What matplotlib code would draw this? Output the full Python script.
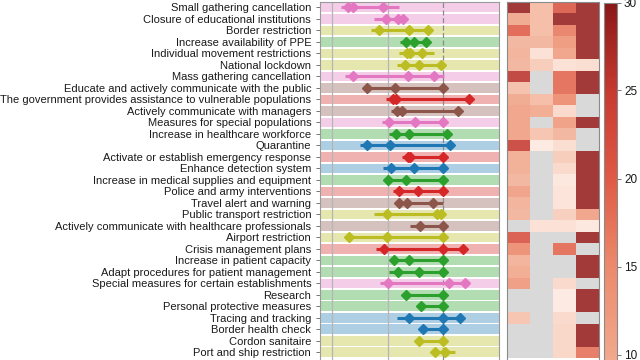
import numpy as np
import matplotlib
matplotlib.use("Agg")
import matplotlib.pyplot as plt
from matplotlib.colors import LinearSegmentedColormap, Normalize
from matplotlib.cm import ScalarMappable

plt.rcParams['font.family'] = ['Liberation Sans', 'DejaVu Sans']

measures = [
    "Small gathering cancellation",
    "Closure of educational institutions",
    "Border restriction",
    "Increase availability of PPE",
    "Individual movement restrictions",
    "National lockdown",
    "Mass gathering cancellation",
    "Educate and actively communicate with the public",
    "The government provides assistance to vulnerable populations",
    "Actively communicate with managers",
    "Measures for special populations",
    "Increase in healthcare workforce",
    "Quarantine",
    "Activate or establish emergency response",
    "Enhance detection system",
    "Increase in medical supplies and equipment",
    "Police and army interventions",
    "Travel alert and warning",
    "Public transport restriction",
    "Actively communicate with healthcare professionals",
    "Airport restriction",
    "Crisis management plans",
    "Increase in patient capacity",
    "Adapt procedures for patient management",
    "Special measures for certain establishments",
    "Research",
    "Personal protective measures",
    "Tracing and tracking",
    "Border health check",
    "Cordon sanitaire",
    "Port and ship restriction",
]

# category colour of each measure
categories = ["pink", "pink", "olive", "green", "olive", "olive", "pink", "brown",
              "red", "brown", "pink", "green", "blue", "red", "blue", "green",
              "red", "brown", "olive", "brown", "olive", "red", "green", "green",
              "pink", "green", "green", "blue", "blue", "olive", "olive"]

# range of each measure (horizontal line)
range_lo = [0.16, 0.76, 0.70, 1.22, 1.21, 1.17, 0.23, 0.61, 0.97, 1.05, 0.90, 1.02,
            0.50, 1.26, 0.91, 0.97, 1.09, 1.16, 0.75, 1.40, 0.26, 0.79, 1.06, 1.03,
            0.86, 1.28, 1.56, 1.17, 1.59, 1.53, 1.80]
range_hi = [1.20, 1.29, 1.76, 1.74, 1.83, 2.01, 2.01, 2.01, 2.48, 2.29, 2.00, 2.10,
            2.16, 2.00, 2.00, 2.00, 2.00, 2.00, 2.00, 2.00, 2.06, 2.37, 2.00, 2.00,
            2.42, 2.00, 2.00, 2.32, 2.00, 2.00, 2.21]

# diamond markers (NaN = absent)
marker_a = [0.28, 0.97, 0.84, 1.33, 1.34, 1.32, 0.37, 0.63, 1.09, 1.17, 1.03, 1.15,
            0.63, 1.36, 1.05, 1.00, 1.21, 1.21, 0.98, 1.58, 0.31, 0.93, 1.11, 1.18,
            1.00, 1.33, 1.60, 1.38, 1.63, 1.56, 1.85]
marker_b = [0.37, 1.18, 1.39, 1.47, 1.41, 1.56, 1.37, 1.13, 1.14, 1.25, 1.50, 1.38,
            1.04, 1.40, 1.48, 1.33, 1.54, 1.34, 1.89, 1.99, 0.99, 2.00, 1.38, 1.57,
            2.10, 2.00, 2.00, 2.00, 2.00, 2.00, 2.04]
marker_c = [0.91, 1.28, 1.72, 1.69, 1.61, 1.96, 1.83, 2.00, 2.46, 2.26, 2.00, 2.06,
            2.13, 2.00, 2.00, 2.00, 2.00, 1.81, 1.96, np.nan, 2.00, 2.36, 2.00, 1.99,
            2.40, np.nan, np.nan, 2.31, np.nan, np.nan, np.nan]

# heatmap values, four columns
heat_col1 = [29, 11, 20, 9, 9.5, 9, 26, 7.5, 11, 12, 12, 12, 25, 10, 10, 9,
             12.5, 9.5, 9, np.nan, 22, 15.5, 9.5, 10.5, 13.5, np.nan, np.nan, 7, np.nan, np.nan, np.nan]
heat_col2 = [8, 8, 8, 9, 3, 6, np.nan, np.nan, 8, 10.5, np.nan, 7, 1.5, np.nan, np.nan, np.nan,
             np.nan, np.nan, np.nan, 3, np.nan, np.nan, np.nan, np.nan, np.nan, np.nan, np.nan, np.nan, np.nan, np.nan, np.nan]
heat_col3 = [21, 29, 17, 14, 12, 3, 19, 19, 15.5, 4, 13, 9, 3.5, 6, 4, 2,
             2.5, 2.5, 5.5, 3, np.nan, 19, np.nan, np.nan, 4, 1.5, 1.5, 4, 4.5, 4.5, 4.5]
heat_col4 = [29, 29, 29, 29, 29, 3.5, 29, 29, np.nan, np.nan, 29, np.nan, np.nan, 29, 29, 29,
             29, 29, 12, 2, 29, np.nan, 29, 29, np.nan, 29, 29, np.nan, 29, 29, 18]

palette = {"pink": "#e377c2", "olive": "#bcbd22", "green": "#2ca02c",
           "brown": "#8c564b", "red": "#d62728", "blue": "#1f77b4"}

cmap = LinearSegmentedColormap.from_list(
    "heat",
    [(0.0, "#fff4ee"), (10/30, "#f1a78b"), (15/30, "#ec8a6c"),
     (20/30, "#e05a45"), (25/30, "#c63a30"), (1.0, "#8a1818")])
cmap.set_bad("#d4d4d4")

W, H = 640, 360
fig = plt.figure(figsize=(6.4, 3.6), dpi=100)

n = len(measures)
y = np.arange(n)
ytop = -0.5
ybot = 30.67
top_frac = 1 - 1.7 / H

ax = fig.add_axes([319.5 / W, 0.0, (498.7 - 319.5) / W, top_frac])
ax.set_xlim(-0.23, 3.0)
ax.set_ylim(ybot, ytop)

for i in range(n):
    c = palette[categories[i]]
    ax.axhspan(i - 0.42, i + 0.42, color=c, alpha=0.36, lw=0, zorder=1)
for gx in [0, 1]:
    ax.axvline(gx, color="#b5b5b5", lw=0.9, zorder=2)
ax.axvline(2, color="#8a8a8a", lw=0.9, ls=(0, (4, 2)), zorder=2)

for i in range(n):
    c = palette[categories[i]]
    ax.plot([range_lo[i], range_hi[i]], [i, i], color=c, lw=2.2,
            solid_capstyle="butt", zorder=3)
    ms = [marker_a[i], marker_b[i], marker_c[i]]
    ms = [m for m in ms if not np.isnan(m)]
    ax.plot(ms, [i] * len(ms), ls="none", marker="D", ms=4.8, color=c, zorder=4)

ax.set_yticks(y)
ax.set_yticklabels(measures, fontsize=8.05, color="#1a1a1a")
ax.tick_params(axis="y", length=3, width=0.7, color="#777777", pad=3)
ax.set_xticks([])
for s in ["left", "right", "top"]:
    ax.spines[s].set_color("#9a9a9a")
    ax.spines[s].set_linewidth(0.8)
ax.spines["bottom"].set_visible(False)

# heatmap
hx = fig.add_axes([507.3 / W, 0.0, 92.0 / W, top_frac])
heat = np.ma.masked_invalid(np.array([heat_col1, heat_col2, heat_col3, heat_col4]).T)
hx.pcolormesh(np.arange(5), np.arange(n + 1) - 0.5, heat, cmap=cmap,
              norm=Normalize(0, 30), alpha=0.88, edgecolors="none")
hx.set_xlim(0, 4)
hx.set_ylim(ybot, ytop)
hx.set_xticks([])
hx.set_yticks([])
for s in ["left", "right", "top"]:
    hx.spines[s].set_color("#8a8a8a")
    hx.spines[s].set_linewidth(0.8)
hx.spines["bottom"].set_visible(False)

# colorbar (extends below the visible area)
cb_top = 1 - 2.5 / H
cb_h = 528.0 / H
cax = fig.add_axes([604.0 / W, cb_top - cb_h, 13.0 / W, cb_h])
sm = ScalarMappable(norm=Normalize(0, 30), cmap=cmap)
cb = fig.colorbar(sm, cax=cax, ticks=[10, 15, 20, 25, 30])
cb.outline.set_edgecolor("#8a8a8a")
cb.outline.set_linewidth(0.8)
cax.tick_params(labelsize=8.5, length=3, width=0.7, color="#777777",
                labelcolor="#1a1a1a", pad=2)

fig.savefig("out.png", dpi=100)
